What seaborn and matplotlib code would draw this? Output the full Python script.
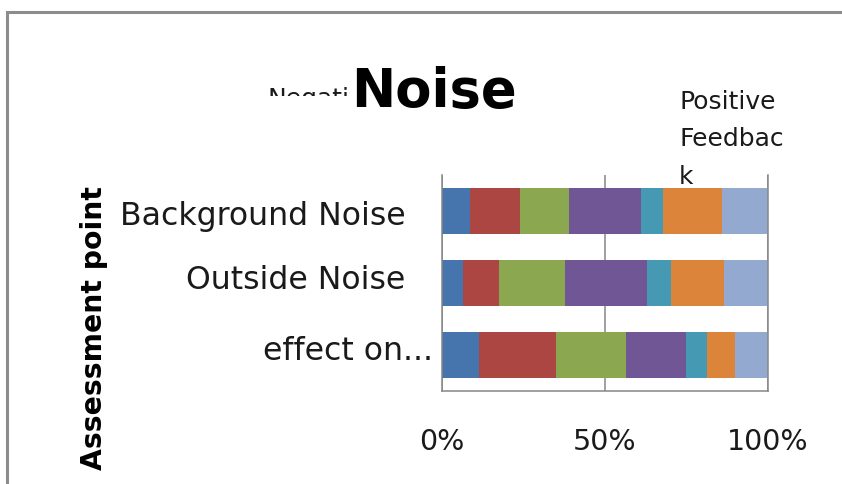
import matplotlib
matplotlib.use("Agg")
import matplotlib.pyplot as plt
from matplotlib.patches import Rectangle
from matplotlib.transforms import Bbox, TransformedBbox, ScaledTranslation
import pandas as pd
import seaborn as sns

# Share of answers (%) per assessment point, one list per rating level
points = ["Background Noise", "Outside Noise", "effect on..."]
levels = ["1", "2", "3", "4", "5", "6", "7"]
level_1 = [8.5, 6.5, 11.3]
level_2 = [15.5, 11.1, 23.7]
level_3 = [15.1, 20.3, 21.4]
level_4 = [22.1, 24.9, 18.5]
level_5 = [6.7, 7.4, 6.4]
level_6 = [18.0, 16.3, 8.7]
level_7 = [14.1, 13.5, 10.0]
x_ticks = [0, 50, 100]
x_tick_labels = ["0%", "50%", "100%"]

colors = ["#4674AC", "#AC4642", "#8BA851", "#705694",
          "#4599B2", "#DD843B", "#94A9CF"]

W, H = 842, 484
DPI = 100


def fig_xy(x, y):
    """Pixel position (from top-left) to figure fraction."""
    return x / W, 1 - y / H


sns.set_theme(style="white")
plt.rcParams["font.family"] = ["DejaVu Sans"]

fig = plt.figure(figsize=(W / DPI, H / DPI), dpi=DPI)
fig.patch.set_facecolor("white")

ax = fig.add_axes([442 / W, 1 - 390.7 / H, 325.7 / W, 215.7 / H])

df = pd.DataFrame({"point": points, "1": level_1, "2": level_2, "3": level_3,
                   "4": level_4, "5": level_5, "6": level_6, "7": level_7})
cum = df[levels].cumsum(axis=1)

# 100% stacked bars: draw running totals from the widest one down
for lvl, color in reversed(list(zip(levels, colors))):
    sns.barplot(x=cum[lvl], y=df["point"], orient="h", order=points,
                color=color, saturation=1, width=0.64, linewidth=0,
                edgecolor="none", ax=ax)

ax.set_xlim(0, 100)
ax.set_ylim(2.5, -0.5)
ax.set_xticks(x_ticks)
ax.set_xticklabels(x_tick_labels, fontsize=20.5, color="#1a1a1a")
ax.set_xlabel("")
ax.tick_params(axis="x", length=0, pad=27)
ax.tick_params(axis="y", length=0, pad=26.5, labelsize=22.7,
               labelcolor="#1a1a1a")

ax.set_axisbelow(True)
ax.grid(axis="x", color="#868686", linewidth=1.1)
ax.grid(axis="y", visible=False)
for side in ["left", "bottom", "right"]:
    ax.spines[side].set_visible(True)
    ax.spines[side].set_color("#868686")
    ax.spines[side].set_linewidth(1.1)
ax.spines["top"].set_visible(False)

# per-label nudges (pixels): the last category label sits further right
label_shift = [(0, -2), (0, 6), (28, 7)]
for lbl, (dx, dy) in zip(ax.get_yticklabels(), label_shift):
    lbl.set_transform(lbl.get_transform()
                      + ScaledTranslation(dx / DPI, dy / DPI,
                                          fig.dpi_scale_trans))

ax.set_ylabel("Assessment point", fontsize=20.3, fontweight="bold",
              color="black", va="center")
ax.yaxis.set_label_coords((94 - 442) / 325.7, (390.7 - 328) / 215.7)

# legend end labels
neg = fig.text(*fig_xy(268, 87), "Negative\nFeedback", fontsize=18,
               color="#1a1a1a", ha="left", va="top", zorder=2)
neg.set_clip_box(TransformedBbox(Bbox.from_extents(0, 1 - 96 / H, 1, 1),
                                 fig.transFigure))
neg.set_clip_on(True)

fig.text(*fig_xy(679, 90), "Positive\nFeedbac\nk", fontsize=18,
         color="#1a1a1a", ha="left", va="top", linespacing=1.7, zorder=2)

fig.text(*fig_xy(434, 107), "Noise", fontsize=38, fontweight="bold",
         color="black", ha="center", va="baseline", zorder=3,
         bbox=dict(facecolor="white", edgecolor="none", pad=1))

# chart area border
fig.add_artist(Rectangle((7 / W, -0.1), 1.2, (1 - 12 / H) + 0.1,
                         transform=fig.transFigure, fill=False,
                         edgecolor="#8c8c8c", linewidth=2.2))

fig.savefig("out.png", dpi=DPI)
